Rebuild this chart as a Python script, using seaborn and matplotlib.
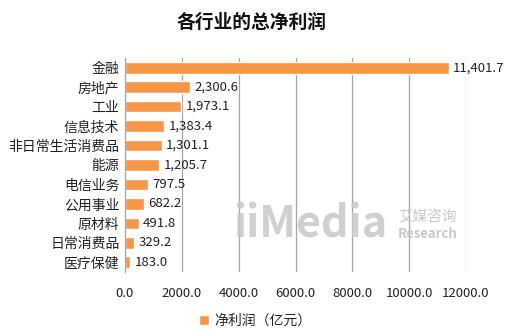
import matplotlib
matplotlib.use("Agg")
import matplotlib.pyplot as plt
import seaborn as sns
import pandas as pd

categories = ["金融", "房地产", "工业", "信息技术", "非日常生活消费品", "能源",
              "电信业务", "公用事业", "原材料", "日常消费品", "医疗保健"]
profits = [11401.7, 2300.6, 1973.1, 1383.4, 1301.1, 1205.7,
           797.5, 682.2, 491.8, 329.2, 183.0]
x_ticks = [0, 2000, 4000, 6000, 8000, 10000, 12000]
series_name = "净利润（亿元）"

sns.set_theme(style="white")
plt.rcParams["font.family"] = ["Noto Sans CJK SC", "DejaVu Sans"]

df = pd.DataFrame({"行业": categories, "净利润": profits})

fig = plt.figure(figsize=(5.05, 3.34), dpi=100)
ax = fig.add_axes([125 / 505, 1 - 272 / 334, (466 - 125) / 505, (272 - 58) / 334])

bar_color = "#F79646"
sns.barplot(data=df, y="行业", x="净利润", color=bar_color, width=0.6,
            saturation=1, ax=ax, label=series_name)

ax.set_xlim(0, 12000)
ax.set_xticks(x_ticks)
ax.set_xticklabels([f"{v:.1f}" for v in x_ticks], fontsize=9.5, color="#222222")
ax.tick_params(axis="x", length=0, pad=11)
ax.tick_params(axis="y", length=0, pad=4, labelsize=10, labelcolor="#222222")
ax.set_xlabel("")
ax.set_ylabel("")
ax.xaxis.grid(True, color="#a6a6a6", linewidth=0.9)
ax.set_axisbelow(True)
for side in ["top", "right", "bottom"]:
    ax.spines[side].set_visible(False)
ax.spines["left"].set_color("#a6a6a6")
ax.spines["left"].set_linewidth(0.9)

for i, v in enumerate(profits):
    ax.text(v + 150, i, f"{v:,.1f}", va="center", ha="left", fontsize=9.5, color="#222222")

# faint brand watermark
fig.text(233 / 505, 1 - 224 / 334, "iiMedia", fontsize=31, fontweight="heavy",
         color="#c8c8c4", alpha=0.85, va="center", ha="left", zorder=0)
fig.text(398 / 505, 1 - 217 / 334, "艾媒咨询", fontsize=10.5, fontstyle="italic",
         color="#c8c8c4", va="center", ha="left")
fig.text(398 / 505, 1 - 234 / 334, "Research", fontsize=9.5, fontstyle="italic",
         fontweight="bold", color="#c8c8c4", va="center", ha="left")

fig.text(252 / 505, 1 - 22 / 334, "各行业的总净利润", fontsize=13.5, fontweight="bold",
         ha="center", va="center", color="#111111")

ax.legend(loc="center", bbox_to_anchor=(255 / 505, 1 - 321 / 334),
          bbox_transform=fig.transFigure, frameon=False, fontsize=10,
          handlelength=0.7, handleheight=0.7, handletextpad=0.4)

fig.savefig("out.png", dpi=100)
